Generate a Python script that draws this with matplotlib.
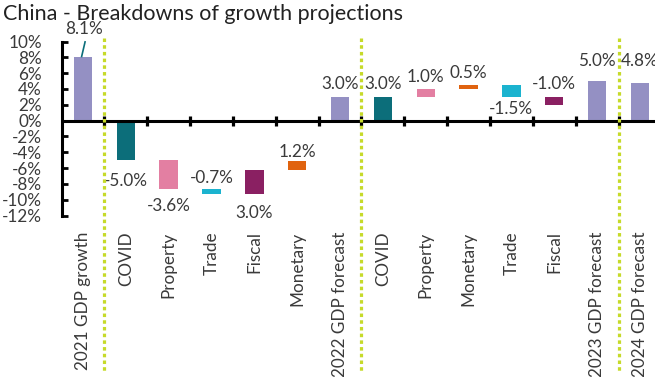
import matplotlib
matplotlib.use("Agg")
import matplotlib.pyplot as plt
import matplotlib.transforms as mtransforms
import numpy as np

# ---- data ----
categories = ["2021 GDP growth", "COVID", "Property", "Trade", "Fiscal", "Monetary",
              "2022 GDP forecast", "COVID", "Property", "Monetary", "Trade", "Fiscal",
              "2023 GDP forecast", "2024 GDP forecast"]
values = [8.1, -5.0, -3.6, -0.7, 3.0, 1.2, 3.0, 3.0, 1.0, 0.5, -1.5, -1.0, 5.0, 4.8]
is_total = [True, False, False, False, False, False, True,
            False, False, False, False, False, True, True]
labels = ["8.1%", "-5.0%", "-3.6%", "-0.7%", "3.0%", "1.2%", "3.0%",
          "3.0%", "1.0%", "0.5%", "-1.5%", "-1.0%", "5.0%", "4.8%"]
yticks = [10, 8, 6, 4, 2, 0, -2, -4, -6, -8, -10, -12]
dividers = [0.5, 6.5, 12.5]

# ---- styles ----
C_TOT = "#9490c3"
C_COVID = "#0c6e7a"
C_PROP = "#e37fa2"
C_TRADE = "#1bb3cf"
C_FISC = "#8a2062"
C_MON = "#e0630f"
colors = [C_TOT, C_COVID, C_PROP, C_TRADE, C_FISC, C_MON, C_TOT,
          C_COVID, C_PROP, C_MON, C_TRADE, C_FISC, C_TOT, C_TOT]
label_side = ["lead", "below", "below", "above", "below", "above", "above",
              "above", "above", "above", "below", "above", "above", "above"]
label_gap_px = [0, 11, 8, 1, 9, 0, 3, 3, 3, 3, 3, 3, 11, 12]

FONT = ["Lato", "DejaVu Sans"]
plt.rcParams['font.family'] = FONT
TXT = "#3a3a3a"

W, H = 655, 377
fig = plt.figure(figsize=(W / 100, H / 100), dpi=100)
left_px, right_px = 61.5, 61.5 + 14 * 42.85
top_px, bot_px = 41.5, 215.5
ax = fig.add_axes([left_px / W, 1 - bot_px / H, (right_px - left_px) / W, (bot_px - top_px) / H])

x = np.arange(len(categories))
bottoms = []
run = 0.0
for v, t in zip(values, is_total):
    if t:
        bottoms.append(0.0)
        run = 0.0
    else:
        bottoms.append(run)
        run += v
bottoms = np.array(bottoms)
vals = np.array(values)

ax.bar(x, vals, bottom=bottoms, width=0.43, color=colors, edgecolor="none", zorder=2)

ax.set_xlim(-0.5, len(categories) - 0.5)
ax.set_ylim(-12, 10)
ax.set_yticks(yticks)
ax.set_yticklabels([f"{t}%" for t in yticks])
ax.tick_params(axis="y", direction="in", length=4.5, width=2, pad=14.2,
               labelsize=12.3, colors="black")
for lab in ax.get_yticklabels():
    lab.set_color(TXT)

ax.set_xticks(x)
ax.set_xticklabels(categories, rotation=90, va="top", ha="center")
ax.tick_params(axis="x", length=0, pad=11.5, labelsize=12.3)
for lab in ax.get_xticklabels():
    lab.set_color(TXT)

for s in ["top", "right", "bottom"]:
    ax.spines[s].set_visible(False)
ax.spines["left"].set_linewidth(2.2)
ax.spines["left"].set_color("black")

# zero line with boundary ticks
ax.axhline(0, color="black", lw=2.2, zorder=3)
bounds = np.arange(0.5, len(categories) - 0.5, 1.0)
ax.plot(bounds, np.zeros_like(bounds), linestyle="none", marker="|",
        markersize=7, markeredgewidth=2.3, color="black", zorder=3, clip_on=False)

# dotted dividers
trans = mtransforms.blended_transform_factory(ax.transData, fig.transFigure)
for d in dividers:
    ax.plot([d, d], [1 - 38 / H, 1 - 372 / H], transform=trans, color="#c6da2a",
            lw=2.3, linestyle=(0, (1.1, 1.0)), clip_on=False, zorder=4)

# value labels
px2pt = 72 / 100
for i, (xi, v, b, lab, side) in enumerate(zip(x, vals, bottoms, labels, label_side)):
    top = max(b, b + v)
    low = min(b, b + v)
    if side == "lead":
        ax.plot([xi - 0.03, xi + 0.05], [top, 9.95], color=C_COVID, lw=1.2,
                clip_on=False, zorder=3)
        ax.annotate(lab, (xi, top), xytext=(1, 28 * px2pt), textcoords="offset points",
                    ha="center", va="center", fontsize=12.3, color=TXT,
                    annotation_clip=False)
    elif side == "above":
        ax.annotate(lab, (xi, top), xytext=(0, label_gap_px[i] * px2pt + 1),
                    textcoords="offset points", ha="center", va="bottom",
                    fontsize=12.3, color=TXT, annotation_clip=False)
    else:
        ax.annotate(lab, (xi, low), xytext=(0, -(label_gap_px[i] * px2pt + 1)),
                    textcoords="offset points", ha="center", va="top",
                    fontsize=12.3, color=TXT, annotation_clip=False)

fig.text(3 / W, 1 - 14 / H, "China - Breakdowns of growth projections",
         ha="left", va="center", fontsize=15.5, color="#222222")

fig.savefig("out.png", dpi=100)
